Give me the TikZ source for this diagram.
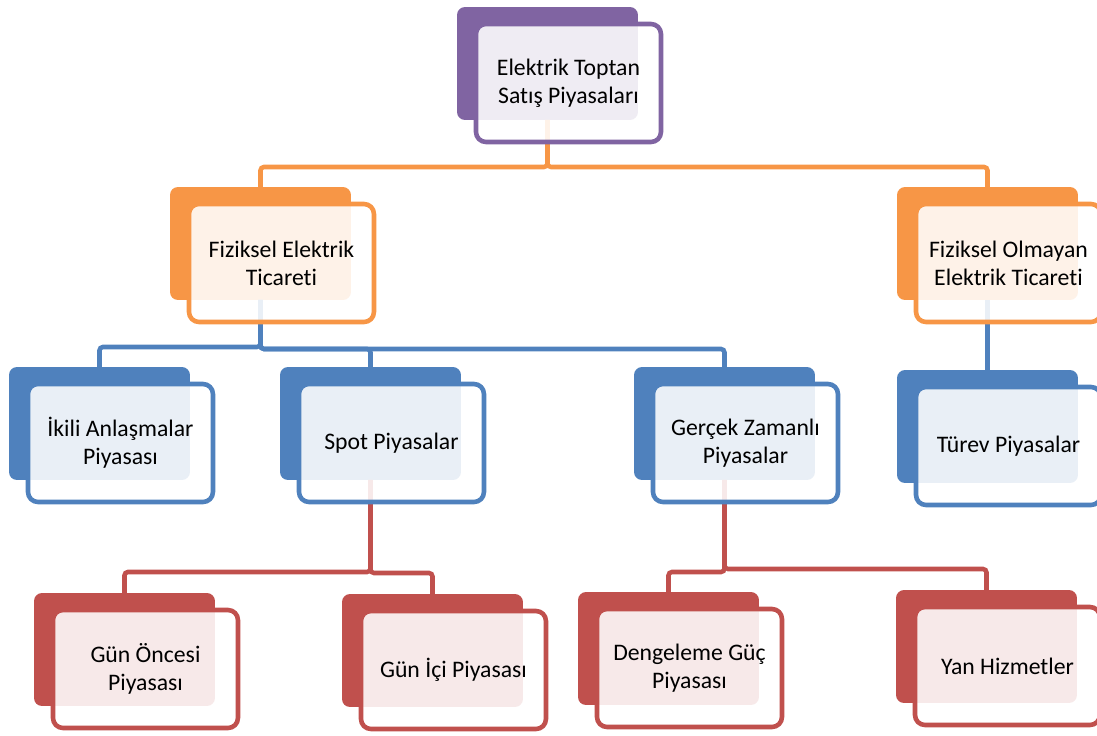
\documentclass[tikz,border=0pt]{standalone}
\usepackage{fontspec}
\setmainfont{Carlito}[Ligatures={NoCommon,NoRare}]
\definecolor{purp}{HTML}{8064A2}
\definecolor{orng}{HTML}{F79646}
\definecolor{blu}{HTML}{4F81BD}
\definecolor{rd}{HTML}{C0504D}
\tikzset{%
	backbox/.style  = {rectangle, fill=#1, rounded corners=0.16cm, minimum width=3.62cm, minimum height=2.26cm, inner sep=0pt, outer sep=0pt, anchor=north west},
	frontbox/.style = {rectangle, draw=#1, line width=2.6pt, fill=white, fill opacity=0.88, text opacity=1, rounded corners=0.2cm, minimum width=3.7cm, minimum height=2.36cm, inner sep=2pt, outer sep=0pt, anchor=north west, align=center, font=\fontsize{13.5}{16}\selectfont},
	link/.style     = {draw=#1, line width=2.6pt, rounded corners=2pt},
}
\begin{document}
\begin{tikzpicture}[x=0.02cm,y=-0.02cm]
		\useasboundingbox (0,0) rectangle (1097,735);
		% back boxes
		\node [backbox=purp] (topB) at (457,7) {};
		\node [backbox=orng] (fizB) at (170,187) {};
		\node [backbox=orng] (nfizB) at (897,187) {};
		\node [backbox=blu] (ikiliB) at (9,367) {};
		\node [backbox=blu] (spotB) at (280,367) {};
		\node [backbox=blu] (gercekB) at (634,367) {};
		\node [backbox=blu] (turevB) at (897,370) {};
		\node [backbox=rd] (oncesiB) at (34,593) {};
		\node [backbox=rd] (iciB) at (342,594) {};
		\node [backbox=rd] (dengB) at (578,592) {};
		\node [backbox=rd] (yanB) at (896,590) {};
		
		% connectors
		\draw[link=orng] (topB.south) -- ++(0,47) -| (fizB.north);
		\draw[link=orng] (topB.south) -- ++(0,47) -| (nfizB.north);
		\draw[link=blu] (fizB.south) -- ++(0,47) -| (ikiliB.north);
		\draw[link=blu] (fizB.south) -- ++(0,49) -| (spotB.north);
		\draw[link=blu] (fizB.south) -- ++(0,49) -| (gercekB.north);
		\draw[link=blu] (nfizB.south) -- (turevB.north);
		\draw[link=rd] (spotB.south) -- ++(0,92) -| (oncesiB.north);
		\draw[link=rd] (spotB.south) -- ++(0,93) -| (iciB.north);
		\draw[link=rd] (gercekB.south) -- ++(0,92) -| (dengB.north);
		\draw[link=rd] (gercekB.south) -- ++(0,89) -| (yanB.north);
		
		% front boxes
		\node [frontbox=purp] (top) at ([shift={(19,17)}]topB.north west) {Elektrik Toptan\\Satış Piyasaları};
		\node [frontbox=orng] (fiz) at ([shift={(19,17)}]fizB.north west) {Fiziksel Elektrik\\Ticareti};
		\node [frontbox=orng] (nfiz) at ([shift={(19,17)}]nfizB.north west) {Fiziksel Olmayan\\Elektrik Ticareti};
		\node [frontbox=blu] (ikili) at ([shift={(19,17)}]ikiliB.north west) {İkili Anlaşmalar\\Piyasası};
		\node [frontbox=blu] (spot) at ([shift={(19,17)}]spotB.north west) {Spot Piyasalar};
		\node [frontbox=blu] (gercek) at ([shift={(19,17)}]gercekB.north west) {Gerçek Zamanlı\\Piyasalar};
		\node [frontbox=blu] (turev) at ([shift={(19,17)}]turevB.north west) {Türev Piyasalar};
		\node [frontbox=rd] (oncesi) at ([shift={(19,17)}]oncesiB.north west) {Gün Öncesi\\Piyasası};
		\node [frontbox=rd] (ici) at ([shift={(19,17)}]iciB.north west) {Gün İçi Piyasası};
		\node [frontbox=rd] (deng) at ([shift={(19,17)}]dengB.north west) {Dengeleme Güç\\Piyasası};
		\node [frontbox=rd] (yan) at ([shift={(19,17)}]yanB.north west) {Yan Hizmetler};
\end{tikzpicture}
\end{document}
